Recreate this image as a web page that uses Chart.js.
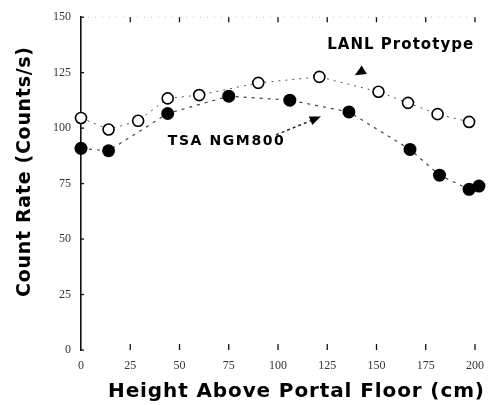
<!DOCTYPE html>
<html>
<head>
<meta charset="utf-8">
<script src="https://cdn.jsdelivr.net/npm/chart.js@4"></script>
<style>
  html, body { margin: 0; padding: 0; background: #fff; }
  #chart { display: block; }
</style>
</head>
<body>
<canvas id="chart" width="493" height="405"></canvas>
<script>
// Count rate vs detector height.
const lanlHeight = [0, 14, 29, 44, 60, 90, 121, 151, 166, 181, 197];
const lanlRate   = [104.6, 99.4, 103.3, 113.4, 114.9, 120.4, 123.1, 116.4, 111.4, 106.3, 102.8];

const tsaHeight  = [0, 14, 44, 75, 106, 136, 167, 182, 197, 202];
const tsaRate    = [90.9, 89.8, 106.6, 114.4, 112.6, 107.3, 90.4, 78.8, 72.4, 73.9];

const xTicks = [0, 25, 50, 75, 100, 125, 150, 175, 200];
const yTicks = [0, 25, 50, 75, 100, 125, 150];

const toPoints = (xs, ys) => xs.map((x, i) => ({ x, y: ys[i] }));

function arrowHead(ctx, tx, ty, ang, len, half) {
  ctx.beginPath();
  ctx.moveTo(tx, ty);
  ctx.lineTo(tx - len * Math.cos(ang) + half * Math.sin(ang), ty - len * Math.sin(ang) - half * Math.cos(ang));
  ctx.lineTo(tx - len * Math.cos(ang) - half * Math.sin(ang), ty - len * Math.sin(ang) + half * Math.cos(ang));
  ctx.closePath();
  ctx.fill();
}

// the scan uses a wide, spaced-out bold face: stretch text to a given width
function spacedText(ctx, text, cx, cy, width, font, rot) {
  ctx.save();
  ctx.font = font;
  ctx.textAlign = 'left';
  ctx.textBaseline = 'middle';
  ctx.translate(cx, cy);
  if (rot) ctx.rotate(rot);
  const chars = [...text];
  const widths = chars.map(c => ctx.measureText(c).width);
  const natural = widths.reduce((a, b) => a + b, 0);
  const gap = (width - natural) / (chars.length - 1);
  let px = -width / 2;
  chars.forEach((c, i) => {
    ctx.fillText(c, px, 0);
    px += widths[i] + gap;
  });
  ctx.restore();
}

// inward tick marks, dotted top edge, axis titles and the two labels with arrows
const notes = {
  id: 'notes',
  afterDatasetsDraw(chart) {
    const { ctx, chartArea: area, scales: { x, y } } = chart;
    ctx.save();

    ctx.strokeStyle = '#bbb';
    ctx.lineWidth = 1;
    ctx.setLineDash([1, 6]);
    ctx.beginPath();
    ctx.moveTo(area.left, area.top);
    ctx.lineTo(area.right, area.top);
    ctx.stroke();
    ctx.setLineDash([]);

    ctx.strokeStyle = '#111';
    ctx.lineWidth = 1.3;
    xTicks.forEach(v => {
      if (v === 0) return;
      const px = x.getPixelForValue(v);
      ctx.beginPath();
      ctx.moveTo(px, area.bottom);
      ctx.lineTo(px, area.bottom - 6);
      ctx.moveTo(px, area.top);
      ctx.lineTo(px, area.top + 5);
      ctx.stroke();
    });
    yTicks.forEach(v => {
      const py = y.getPixelForValue(v);
      ctx.beginPath();
      ctx.moveTo(area.left, py);
      ctx.lineTo(area.left + 3, py);
      ctx.stroke();
    });

    ctx.fillStyle = '#000';
    spacedText(ctx, 'Height Above Portal Floor (cm)', 296, 392, 376, 'bold 20px "DejaVu Sans"', 0);
    spacedText(ctx, 'Count Rate (Counts/s)', 25, 172, 250, 'bold 19px "DejaVu Sans"', -Math.PI / 2);

    spacedText(ctx, 'TSA NGM800', x.getPixelForValue(73.5), y.getPixelForValue(94), 116, 'bold 14px "DejaVu Sans"', 0);
    spacedText(ctx, 'LANL Prototype', x.getPixelForValue(162), y.getPixelForValue(137.4), 146, 'bold 15px "DejaVu Sans"', 0);

    // TSA arrow
    const ax0 = x.getPixelForValue(99), ay0 = y.getPixelForValue(97);
    const ax1 = x.getPixelForValue(121.7), ay1 = y.getPixelForValue(105.2);
    ctx.strokeStyle = '#222';
    ctx.lineWidth = 1.4;
    ctx.setLineDash([3, 3]);
    ctx.beginPath();
    ctx.moveTo(ax0, ay0);
    ctx.lineTo(ax1, ay1);
    ctx.stroke();
    ctx.setLineDash([]);
    arrowHead(ctx, ax1, ay1, Math.atan2(ay1 - ay0, ax1 - ax0), 11, 4.5);

    // LANL arrow head
    const lx = x.getPixelForValue(139), ly = y.getPixelForValue(123.8);
    arrowHead(ctx, lx, ly, Math.atan2(0.6, -1), 11, 5);

    ctx.restore();
  }
};

new Chart(document.getElementById('chart'), {
  type: 'scatter',
  data: {
    datasets: [
      {
        label: 'LANL Prototype',
        data: toPoints(lanlHeight, lanlRate),
        showLine: true,
        borderColor: '#555',
        borderWidth: 1,
        borderDash: [2, 5],
        pointRadius: 5.5,
        pointBorderWidth: 1.6,
        pointBorderColor: '#000',
        pointBackgroundColor: '#fff',
        clip: false,
      },
      {
        label: 'TSA NGM800',
        data: toPoints(tsaHeight, tsaRate),
        showLine: true,
        borderColor: '#444',
        borderWidth: 1.2,
        borderDash: [3, 5],
        pointRadius: 6.5,
        pointBorderWidth: 0,
        pointBorderColor: '#000',
        pointBackgroundColor: '#000',
        clip: false,
      }
    ]
  },
  options: {
    responsive: false,
    animation: false,
    layout: { padding: { top: 17, right: 11, left: 0, bottom: 0 } },
    plugins: { legend: { display: false }, tooltip: { enabled: false } },
    elements: { line: { tension: 0 } },
    scales: {
      x: {
        type: 'linear',
        min: 0,
        max: 200,
        afterFit: (s) => { s.height = 55; },
        afterBuildTicks: (s) => { s.ticks = xTicks.map(v => ({ value: v })); },
        grid: { display: false, drawTicks: false },
        border: { display: false },
        ticks: {
          color: '#333',
          font: { family: 'Liberation Serif', size: 12 },
          padding: 9,
          maxRotation: 0,
        },
        title: { display: false }
      },
      y: {
        min: 0,
        max: 150,
        afterFit: (s) => { s.width = 81; },
        afterBuildTicks: (s) => { s.ticks = yTicks.map(v => ({ value: v })); },
        grid: { display: false, drawTicks: false },
        border: { display: true, color: '#111', width: 1.6 },
        ticks: {
          color: '#333',
          font: { family: 'Liberation Serif', size: 12 },
          padding: 10,
        },
        title: { display: false }
      }
    }
  },
  plugins: [notes]
});
</script>
</body>
</html>
